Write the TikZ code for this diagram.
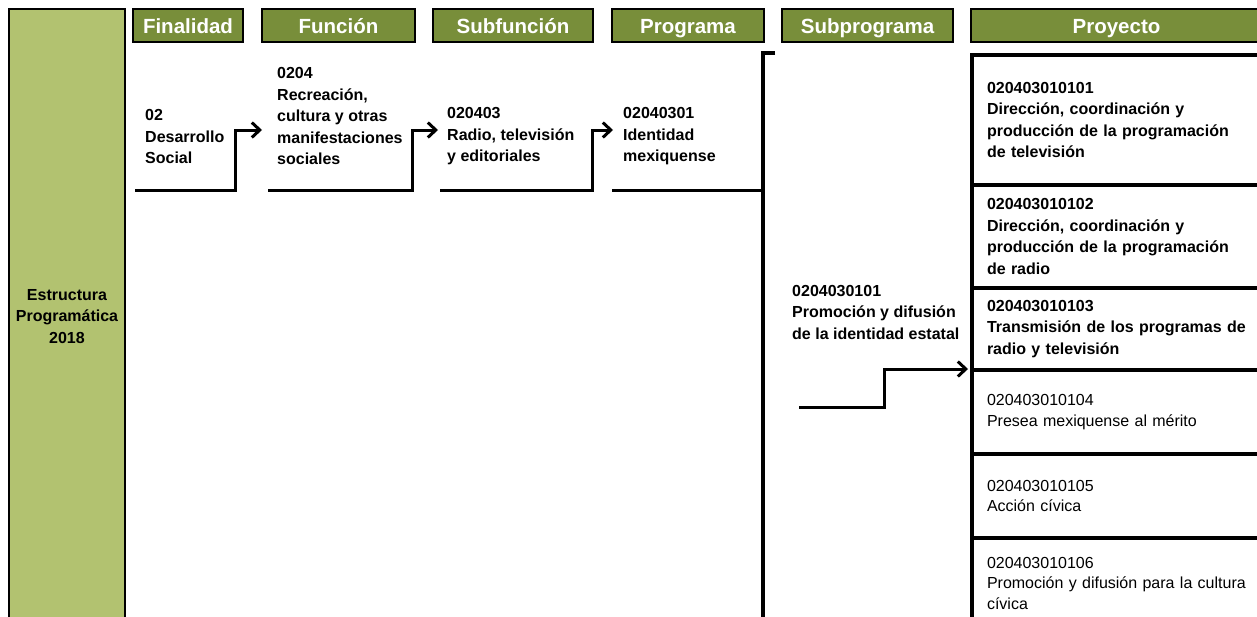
\documentclass[tikz,border=0pt]{standalone}
\usepackage{fontspec}
\setmainfont{Liberation Sans}
\usetikzlibrary{arrows.meta}
\definecolor{hdr}{RGB}{120,142,58}
\definecolor{colfill}{RGB}{178,194,112}
\begin{document}
\begin{tikzpicture}[x=1pt,y=-1pt,
  hdrbox/.style={draw=black, line width=2pt, fill=hdr, text=white,
    font=\fontsize{20.5}{22}\selectfont\bfseries, inner sep=0pt, minimum height=33pt,
    text height=15pt, text depth=0pt},
  leftcol/.style={draw=black, line width=2.5pt, fill=colfill, align=center,
    font=\fontsize{16}{21.5}\selectfont\bfseries, inner sep=0pt},
  txt/.style={align=left, anchor=west, inner sep=0pt,
    font=\fontsize{16}{21.5}\selectfont\bfseries},
  projbox/.style={draw=black, line width=4pt, minimum width=300pt, text width=270pt,
    inner xsep=15pt, inner ysep=0pt, align=left, anchor=north west,
    font=\fontsize{16}{21.5}\selectfont\bfseries},
  projreg/.style={projbox, font=\fontsize{16}{20.5}\selectfont},
  conn/.style={line width=3pt, -{Straight Barb[length=8pt,width=15pt]}},
  thick line/.style={line width=3pt},
  bracket/.style={line width=4pt}]
\useasboundingbox (0,0) rectangle (1257,616);
% left column
\node[leftcol, minimum width=116pt, minimum height=615pt] (ec) at (67,316.5)
  {Estructura\\Programática\\2018};
% headers
\node[hdrbox, minimum width=110pt] (hfin) at (188,25.5) {Finalidad};
\node[hdrbox, minimum width=153pt] (hfun) at (338.5,25.5) {Función};
\node[hdrbox, minimum width=160pt] (hsub) at (513,25.5) {Subfunción};
\node[hdrbox, minimum width=152pt] (hpro) at (688,25.5) {Programa};
\node[hdrbox, minimum width=171pt] (hspr) at (867.5,25.5) {Subprograma};
\node[hdrbox, minimum width=291pt] (hpry) at (1116.5,25.5) {Proyecto};
% texts
\node[txt] (fin) at (145,136.5) {02\\Desarrollo\\Social};
\node[txt] (fun) at (277,116) {0204\\Recreación,\\cultura y otras\\manifestaciones\\sociales};
\node[txt] (sub) at (447,136.5) {020403\\Radio, televisión\\y editoriales};
\node[txt] (pro) at (623,136.5) {02040301\\Identidad\\mexiquense};
\node[txt] (spr) at (792,312) {0204030101\\Promoción y difusión\\de la identidad estatal};
% project boxes
\node[projbox, minimum height=130pt] (p1) at (970,53)
  {020403010101\\Dirección, coordinación y\\producción de la programación\\de televisión};
\node[projbox, minimum height=103pt] (p2) at (970,183)
  {020403010102\\Dirección, coordinación y\\producción de la programación\\de radio};
\node[projbox, minimum height=82pt] (p3) at (970,286)
  {020403010103\\Transmisión de los programas de\\radio y televisión};
\node[projreg, minimum height=84pt] (p4) at (970,368)
  {020403010104\\Presea mexiquense al mérito};
\node[projreg, minimum height=84pt] (p5) at (970,452)
  {020403010105\\Acción cívica};
\node[projreg, minimum height=90pt] (p6) at (970,536)
  {020403010106\\Promoción y difusión para la cultura\\cívica};
% connector anchors
\coordinate (l1) at (135,190);
\coordinate (t1) at (262,130);
\coordinate (l2) at (268,190);
\coordinate (t2) at (438,130);
\coordinate (l3) at (440,190);
\coordinate (t3) at (613,130);
\coordinate (l4) at (612,190);
\coordinate (bt) at (775,53);
\coordinate (btop) at (763,53);
\coordinate (bbot) at (763,630);
\coordinate (l5) at (799,407);
\coordinate (t5) at (968,369);
% connectors
\draw[conn] (l1) -| ([xshift=-27pt]t1) -- (t1);
\draw[conn] (l2) -| ([xshift=-26pt]t2) -- (t2);
\draw[conn] (l3) -| ([xshift=-21pt]t3) -- (t3);
\draw[thick line] (l4) -- (l4 -| btop);
\draw[bracket] (bt) -- (btop) -- (bbot);
\draw[conn] (l5) -| ([xshift=-84pt]t5) -- (t5);
\end{tikzpicture}
\end{document}
